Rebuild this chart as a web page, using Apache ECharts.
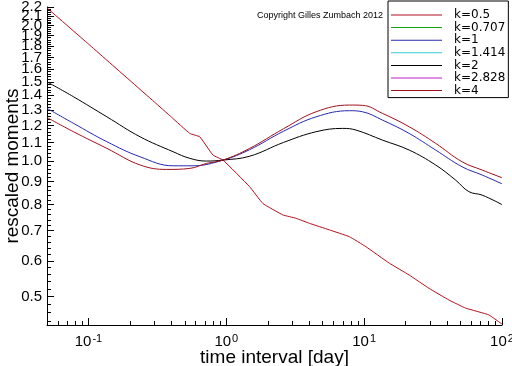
<!DOCTYPE html>
<html>
<head>
<meta charset="utf-8">
<script src="https://cdn.jsdelivr.net/npm/echarts@6/dist/echarts.min.js"></script>
<style>html,body{margin:0;padding:0;background:#fff;}#c{width:512px;height:366px;}</style>
</head>
<body>
<div id="c"></div>
<script>
// ---- data ----
const seriesNames = ['k=0.5', 'k=0.707', 'k=1', 'k=1.414', 'k=2', 'k=2.828', 'k=4'];
const seriesColors = ['#b0101c', '#10a010', '#2828b0', '#30d0d8', '#000000', '#c020c8', '#a0101c'];

const xK05 = [0.05, 0.1, 0.2, 0.3, 0.4, 0.543, 0.642, 0.80, 0.946, 1.476, 1.84, 2.57, 3.21, 4.01, 5.59, 7.80, 10.3, 15.2, 21.2, 29.6, 41.2, 54.5, 80.2, 100];
const yK05 = [2.19, 1.82, 1.51, 1.354, 1.252, 1.152, 1.132, 1.031, 1.005, 0.877, 0.805, 0.759, 0.746, 0.727, 0.703, 0.679, 0.645, 0.593, 0.558, 0.521, 0.491, 0.471, 0.455, 0.434];

const xK1 = [0.05, 0.0778, 0.136, 0.237, 0.411, 0.574, 0.946, 1.476, 2.6, 4.48, 7.80, 9.73, 13.6, 21.2, 33, 51.4, 71.8, 100];
const yK1 = [1.31, 1.213, 1.104, 1.022, 0.976, 0.976, 1.005, 1.06, 1.165, 1.254, 1.294, 1.287, 1.233, 1.152, 1.058, 0.971, 0.931, 0.89];

const xK2 = [0.05, 0.0778, 0.136, 0.237, 0.411, 0.543, 0.718, 0.946, 1.476, 2.6, 4.48, 6.98, 8.72, 13.6, 21.2, 33.0, 46.1, 57.5, 71.8, 100];
const yK2 = [1.50, 1.39, 1.254, 1.132, 1.049, 1.014, 1.0, 1.005, 1.025, 1.10, 1.162, 1.182, 1.172, 1.113, 1.058, 0.98, 0.907, 0.855, 0.840, 0.80];

const xK4 = [0.05, 0.0778, 0.136, 0.237, 0.369, 0.543, 0.718, 0.946, 1.476, 2.6, 4.48, 7.80, 9.73, 13.6, 21.2, 33, 51.4, 71.8, 100];
const yK4 = [1.25, 1.162, 1.067, 0.98, 0.958, 0.963, 0.988, 1.005, 1.067, 1.18, 1.287, 1.332, 1.33, 1.276, 1.192, 1.095, 0.996, 0.955, 0.918];

const xTicks = [0.1, 1, 10, 100];
const yTicks = [0.5, 0.6, 0.7, 0.8, 0.9, 1.0, 1.1, 1.2, 1.3, 1.4, 1.5, 1.6, 1.7, 1.8, 1.9, 2.0, 2.1, 2.2];
const xRange = [0.05, 100.001];
const yRange = [0.432, 2.2005];
const copyright = 'Copyright Gilles Zumbach 2012';

// minor tick positions
const xMinor = [];
[0.01, 0.1, 1, 10].forEach(d => { for (let m = 2; m <= 9; m++) { const v = +(m * d).toPrecision(3); if (v >= xRange[0] && v <= xRange[1]) xMinor.push(v); } });
const yMinor = [];
for (let i = 22; i <= 110; i++) yMinor.push(+(i * 0.02).toFixed(2));
// labels split over two axes so that ECharts' min/max-label overlap check keeps them all
const yLabelsMain = yTicks.filter(v => v !== 2.1);
const yLabelsExtra = yTicks.filter(v => v === 2.1);

const pairs = (xs, ys) => xs.map((x, i) => [x, ys[i]]);
const seriesData = {
  'k=0.5': pairs(xK05, yK05),
  'k=0.707': [],
  'k=1': pairs(xK1, yK1),
  'k=1.414': [],
  'k=2': pairs(xK2, yK2),
  'k=2.828': [],
  'k=4': pairs(xK4, yK4)
};

const chart = echarts.init(document.getElementById('c'), null, {renderer: 'canvas'});
const axisFont = {fontFamily: 'Liberation Sans', fontSize: 15, color: '#000'};
const hiddenY = (extra) => Object.assign({
  type: 'log', logBase: 10, min: yRange[0], max: yRange[1], position: 'left', offset: 0,
  axisLine: {show: false}, axisTick: {show: false}, axisLabel: {show: false}, splitLine: {show: false}
}, extra);
const option = {
  animation: false,
  backgroundColor: '#fff',
  grid: {left: 47, right: 10, top: 7, bottom: 41, containLabel: false, outerBoundsMode: 'none'},
  legend: {
    data: seriesNames,
    orient: 'vertical',
    left: 388, top: 1,
    padding: [8, 3, 1, 3],
    itemGap: 0.6,
    itemWidth: 51, itemHeight: 1,
    icon: 'rect',
    borderColor: '#000', borderWidth: 1, backgroundColor: '#fff',
    textStyle: {fontFamily: 'DejaVu Sans', fontSize: 12, color: '#000', lineHeight: 12, padding: [0, 0, 0, 7]}
  },
  graphic: [{
    type: 'text', left: 257, top: 11,
    style: {text: copyright, font: '9px "Liberation Sans"', fill: '#000'}
  }],
  xAxis: [{
    type: 'log', logBase: 10, min: xRange[0], max: xRange[1], position: 'bottom',
    axisLine: {show: true, lineStyle: {color: '#000', width: 1}},
    axisTick: {show: true, inside: true, length: 7, customValues: xTicks, lineStyle: {color: '#000'}},
    axisLabel: Object.assign({
      customValues: xTicks, margin: 8,
      formatter: v => '{b|10}{s|' + Math.round(Math.log10(v)) + '}',
      rich: {
        b: {fontFamily: 'Liberation Sans', fontSize: 15, color: '#000'},
        s: {fontFamily: 'Liberation Sans', fontSize: 11, color: '#000', verticalAlign: 'top', padding: [0, 0, 7, 1]}
      }
    }, axisFont),
    splitLine: {show: false}, minorTick: {show: false},
    name: 'time interval [day]', nameLocation: 'middle', nameGap: 23, nameMoveOverlap: false,
    nameTextStyle: {fontFamily: 'Liberation Sans', fontSize: 19, color: '#000'}
  }, {
    type: 'log', logBase: 10, min: xRange[0], max: xRange[1], position: 'bottom', offset: 0,
    axisLine: {show: false},
    axisTick: {show: true, inside: true, length: 4, customValues: xMinor, lineStyle: {color: '#000'}},
    axisLabel: {show: false}, splitLine: {show: false}
  }],
  yAxis: [{
    type: 'log', logBase: 10, min: yRange[0], max: yRange[1], position: 'left',
    axisLine: {show: true, lineStyle: {color: '#000', width: 1}},
    axisTick: {show: true, inside: true, length: 7, customValues: yTicks, lineStyle: {color: '#000'}},
    axisLabel: Object.assign({customValues: yLabelsMain, margin: 5, formatter: v => v.toFixed(1), hideOverlap: false}, axisFont),
    splitLine: {show: false},
    name: 'rescaled moments', nameLocation: 'middle', nameGap: 25, nameMoveOverlap: false,
    nameTextStyle: {fontFamily: 'Liberation Sans', fontSize: 19, color: '#000'}
  },
  hiddenY({axisTick: {show: true, inside: true, length: 4, customValues: yMinor, lineStyle: {color: '#000'}}}),
  hiddenY({axisLabel: Object.assign({show: true, customValues: yLabelsExtra, margin: 5, formatter: v => v.toFixed(1)}, axisFont)})
  ],
  series: seriesNames.map((n, i) => ({
    name: n, type: 'line', xAxisIndex: 0, yAxisIndex: 0,
    data: seriesData[n], showSymbol: false, symbol: 'none',
    smooth: n === 'k=0.5' ? 0.1 : 0.4,
    lineStyle: {width: 1, color: seriesColors[i]},
    itemStyle: {color: seriesColors[i]},
    z: 2
  }))
};
chart.setOption(option);
</script>
</body>
</html>
